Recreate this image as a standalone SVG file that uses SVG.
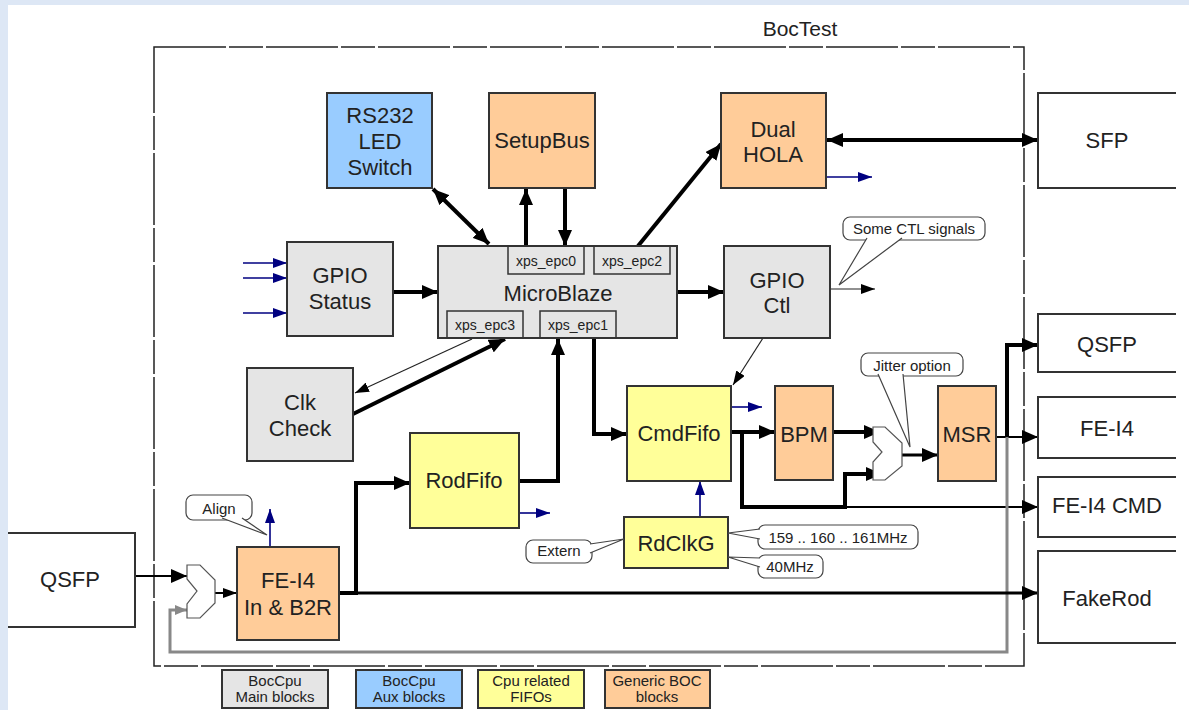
<svg xmlns="http://www.w3.org/2000/svg" width="1189" height="710" viewBox="0 0 1189 710">
<style>
  text{font-family:"Liberation Sans",Arial,sans-serif;fill:#222;text-anchor:middle}
  .t{font-size:22px}
  .s{font-size:14px}
  .c{font-size:15px}
  .box{stroke:#333;stroke-width:2}
  .gray{fill:#e5e5e5}
  .blue{fill:#99ccff}
  .yel{fill:#ffff99}
  .org{fill:#ffcc99}
  .ext{fill:none;stroke:#333;stroke-width:2}
  .k4{fill:none;stroke:#000;stroke-width:4}
  .k3{fill:none;stroke:#000;stroke-width:3}
  .k2{fill:none;stroke:#000;stroke-width:2}
  .k1{fill:none;stroke:#222;stroke-width:1.2}
  .nb{fill:none;stroke:#000080;stroke-width:1.6}
  .gr{fill:none;stroke:#888;stroke-width:3}
  .bub{fill:#fff;stroke:#444;stroke-width:1.2}
  .mux{fill:#fff;stroke:#555;stroke-width:1.2}
</style>
<defs>
  <marker id="ah" markerUnits="userSpaceOnUse" markerWidth="16" markerHeight="14" refX="16" refY="7" orient="auto-start-reverse"><path d="M0,0 L16,7 L0,14 z" fill="#000"/></marker>
  <marker id="ahs" markerUnits="userSpaceOnUse" markerWidth="14" markerHeight="10" refX="14" refY="5" orient="auto-start-reverse"><path d="M0,0 L14,5 L0,10 z" fill="#000"/></marker>
  <marker id="ahb" markerUnits="userSpaceOnUse" markerWidth="14" markerHeight="10" refX="14" refY="5" orient="auto"><path d="M0,0 L14,5 L0,10 z" fill="#000080"/></marker>
  <marker id="ahg" markerUnits="userSpaceOnUse" markerWidth="12" markerHeight="10" refX="12" refY="5" orient="auto"><path d="M0,0 L12,5 L0,10 z" fill="#888"/></marker>
</defs>
<rect x="0" y="0" width="1189" height="710" fill="#dde7f5"/>
<rect x="8" y="5" width="1181" height="705" fill="#fff"/>

<g id="boctest">
  <rect x="154" y="47" width="870" height="619" fill="none" stroke="#222" stroke-width="1.5" stroke-dasharray="72 3 34 3"/>
  <text x="800" y="36" style="font-size:21px">BocTest</text>
</g>

<g id="connectors">
  <line x1="433" y1="189" x2="489" y2="244" class="k4" marker-start="url(#ah)" marker-end="url(#ah)"/>
  <line x1="526" y1="246" x2="526" y2="189" class="k4" marker-end="url(#ah)"/>
  <line x1="565" y1="188" x2="565" y2="246" class="k4" marker-end="url(#ah)"/>
  <line x1="638" y1="246" x2="721" y2="144" class="k4" marker-end="url(#ah)"/>
  <line x1="827" y1="140" x2="1038" y2="140" class="k4" marker-start="url(#ah)" marker-end="url(#ah)"/>
  <line x1="826" y1="177" x2="872" y2="177" class="nb" marker-end="url(#ahb)"/>
  <line x1="393" y1="292" x2="438" y2="292" class="k4" marker-end="url(#ah)"/>
  <line x1="243" y1="263" x2="287" y2="263" class="nb" marker-end="url(#ahb)"/>
  <line x1="243" y1="278" x2="287" y2="278" class="nb" marker-end="url(#ahb)"/>
  <line x1="243" y1="313" x2="287" y2="313" class="nb" marker-end="url(#ahb)"/>
  <line x1="677" y1="292" x2="724" y2="292" class="k4" marker-end="url(#ah)"/>
  <line x1="830" y1="289" x2="875" y2="289" class="k1" marker-end="url(#ahs)"/>
  <line x1="763" y1="338" x2="733" y2="385" class="k1" marker-end="url(#ahs)"/>
  <line x1="472" y1="339" x2="355" y2="393" class="k1" marker-end="url(#ahs)"/>
  <line x1="353" y1="414" x2="505" y2="339" class="k4" marker-end="url(#ah)"/>
  <path d="M519,481 H558 V339" class="k4" marker-end="url(#ah)"/>
  <path d="M594,339 V434 H627" class="k4" marker-end="url(#ah)"/>
  <line x1="731" y1="432" x2="775" y2="432" class="k4" marker-end="url(#ah)"/>
  <path d="M742,432 V507 H845" class="k4"/>
  <path d="M845,507 H1038" class="k2" marker-end="url(#ah)"/>
  <path d="M845,509 V474 H882" class="k4" marker-end="url(#ah)"/>
  <line x1="833" y1="432" x2="880" y2="432" class="k4" marker-end="url(#ah)"/>
  <line x1="902" y1="455" x2="938" y2="455" class="k3" marker-end="url(#ah)"/>
  <line x1="996" y1="437" x2="1038" y2="437" class="k2" marker-end="url(#ah)"/>
  <path d="M1007,437 V345 H1038" class="k4" marker-end="url(#ah)"/>
  <path d="M1007,437 V652 H170 V610 H187" class="gr" marker-end="url(#ahg)"/>
  <line x1="135" y1="576" x2="187" y2="576" class="k2" marker-end="url(#ah)"/>
  <line x1="215" y1="593" x2="237" y2="593" class="k2" marker-end="url(#ahs)"/>
  <path d="M339,593 H356 V483 H410" class="k4" marker-end="url(#ah)"/>
  <line x1="339" y1="593" x2="1038" y2="593" class="k3" marker-end="url(#ah)"/>
  <line x1="270" y1="547" x2="270" y2="509" class="nb" marker-end="url(#ahb)"/>
  <line x1="519" y1="513" x2="550" y2="513" class="nb" marker-end="url(#ahb)"/>
  <line x1="731" y1="407" x2="762" y2="407" class="nb" marker-end="url(#ahb)"/>
  <line x1="700" y1="517" x2="700" y2="481" class="nb" marker-end="url(#ahb)"/>
</g>

<g id="rs232">
  <rect x="327" y="93" width="105" height="95" class="box blue"/>
  <text x="380" y="123" class="t">RS232</text>
  <text x="380" y="149" class="t">LED</text>
  <text x="380" y="175" class="t">Switch</text>
</g>
<g id="setupbus">
  <rect x="489" y="93" width="106" height="95" class="box org"/>
  <text x="542" y="148" class="t">SetupBus</text>
</g>
<g id="dualhola">
  <rect x="721" y="93" width="105" height="95" class="box org"/>
  <text x="773" y="137" class="t">Dual</text>
  <text x="773" y="162" class="t">HOLA</text>
</g>
<g id="microblaze">
  <rect x="438" y="246" width="239" height="92" class="box gray"/>
  <text x="558" y="301" class="t">MicroBlaze</text>
  <rect x="508" y="246" width="76" height="28" fill="none" stroke="#333" stroke-width="1.5"/>
  <text x="546" y="266" class="s">xps_epc0</text>
  <rect x="594" y="246" width="76" height="28" fill="none" stroke="#333" stroke-width="1.5"/>
  <text x="632" y="266" class="s">xps_epc2</text>
  <rect x="447" y="311" width="76" height="27" fill="none" stroke="#333" stroke-width="1.5"/>
  <text x="485" y="330" class="s">xps_epc3</text>
  <rect x="540" y="311" width="76" height="27" fill="none" stroke="#333" stroke-width="1.5"/>
  <text x="578" y="330" class="s">xps_epc1</text>
</g>
<g id="gpiostatus">
  <rect x="287" y="242" width="106" height="94" class="box gray"/>
  <text x="340" y="283" class="t">GPIO</text>
  <text x="340" y="309" class="t">Status</text>
</g>
<g id="gpioctl">
  <rect x="724" y="246" width="106" height="92" class="box gray"/>
  <text x="777" y="288" class="t">GPIO</text>
  <text x="777" y="313" class="t">Ctl</text>
</g>
<g id="clkcheck">
  <rect x="247" y="368" width="106" height="93" class="box gray"/>
  <text x="300" y="410" class="t">Clk</text>
  <text x="300" y="436" class="t">Check</text>
</g>
<g id="rodfifo">
  <rect x="410" y="433" width="109" height="95" class="box yel"/>
  <text x="464" y="488" class="t">RodFifo</text>
</g>
<g id="cmdfifo">
  <rect x="627" y="386" width="104" height="95" class="box yel"/>
  <text x="679" y="441" class="t">CmdFifo</text>
</g>
<g id="rdclkg">
  <rect x="624" y="517" width="104" height="51" class="box yel"/>
  <text x="676" y="551" class="t">RdClkG</text>
</g>
<g id="bpm">
  <rect x="775" y="386" width="58" height="94" class="box org"/>
  <text x="804" y="442" class="t">BPM</text>
</g>
<g id="msr">
  <rect x="938" y="386" width="58" height="95" class="box org"/>
  <text x="967" y="442" class="t">MSR</text>
</g>
<g id="fei4in">
  <rect x="237" y="547" width="102" height="93" class="box org"/>
  <text x="288" y="588" class="t">FE-I4</text>
  <text x="288" y="615" class="t">In &amp; B2R</text>
</g>
<g id="mux1">
  <polygon points="187,565 200,565 215,580 215,603 200,618 187,618 187,604 197,591 187,579" class="mux"/>
</g>
<g id="mux2">
  <polygon points="873,427 885,427 902,443 902,466 885,480 873,480 873,462 882,452 873,442" class="mux"/>
</g>

<g id="qsfp-left">
  <path d="M8,533 H135 V627 H8" class="ext"/>
  <text x="70" y="587" class="t">QSFP</text>
</g>
<g id="sfp">
  <path d="M1176,93 H1038 V188 H1176" class="ext"/>
  <text x="1107" y="148" class="t">SFP</text>
</g>
<g id="qsfp-right">
  <path d="M1176,314 H1038 V372 H1176" class="ext"/>
  <text x="1107" y="352" class="t">QSFP</text>
</g>
<g id="fei4-right">
  <path d="M1176,397 H1038 V458 H1176" class="ext"/>
  <text x="1107" y="436" class="t">FE-I4</text>
</g>
<g id="fei4cmd">
  <path d="M1176,477 H1038 V537 H1176" class="ext"/>
  <text x="1107" y="513" class="t">FE-I4 CMD</text>
</g>
<g id="fakerod">
  <path d="M1176,551 H1038 V643 H1176" class="ext"/>
  <text x="1107" y="606" class="t">FakeRod</text>
</g>

<g id="callout-ctl">
  <rect x="843" y="217" width="142" height="23" rx="7" class="bub"/>
  <path d="M867,238 L839,285 L902,238" class="bub"/>
  <text x="914" y="234" class="c">Some CTL signals</text>
</g>
<g id="callout-jitter">
  <rect x="861" y="353" width="102" height="23" rx="7" class="bub"/>
  <path d="M878,374 L910,447 L903,374" class="bub"/>
  <text x="912" y="371" class="c">Jitter option</text>
</g>
<g id="callout-align">
  <rect x="186" y="495" width="66" height="25" rx="7" class="bub"/>
  <path d="M222,518 L267,535 L242,518" class="bub"/>
  <text x="219" y="514" class="c">Align</text>
</g>
<g id="callout-extern">
  <rect x="526" y="540" width="66" height="23" rx="7" class="bub"/>
  <path d="M590,544 L624,539 L590,553" class="bub"/>
  <text x="559" y="556" class="c">Extern</text>
</g>
<g id="callout-159">
  <rect x="758" y="525" width="160" height="24" rx="7" class="bub"/>
  <path d="M760,529 L728,533 L760,539" class="bub"/>
  <text x="838" y="543" class="c">159 .. 160 .. 161MHz</text>
</g>
<g id="callout-40">
  <rect x="758" y="555" width="65" height="23" rx="7" class="bub"/>
  <path d="M760,558 L728,557 L760,567" class="bub"/>
  <text x="790" y="572" class="c">40MHz</text>
</g>

<g id="legend-main">
  <rect x="222" y="670" width="106" height="38" class="box gray"/>
  <text x="275" y="686" class="c">BocCpu</text>
  <text x="275" y="702" class="c">Main blocks</text>
</g>
<g id="legend-aux">
  <rect x="356" y="670" width="106" height="38" class="box blue"/>
  <text x="409" y="686" class="c">BocCpu</text>
  <text x="409" y="702" class="c">Aux blocks</text>
</g>
<g id="legend-fifo">
  <rect x="478" y="670" width="106" height="38" class="box yel"/>
  <text x="531" y="686" class="c">Cpu related</text>
  <text x="531" y="702" class="c">FIFOs</text>
</g>
<g id="legend-generic">
  <rect x="605" y="670" width="105" height="38" class="box org"/>
  <text x="657" y="686" class="c">Generic BOC</text>
  <text x="657" y="702" class="c">blocks</text>
</g>
</svg>
